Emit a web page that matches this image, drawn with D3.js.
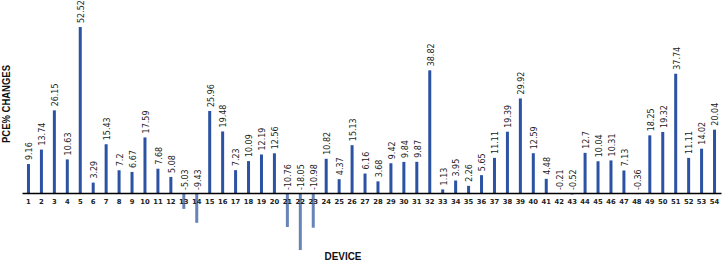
<!DOCTYPE html>
<html>
<head>
<meta charset="utf-8">
<script src="https://cdn.jsdelivr.net/npm/d3@7.9.0/dist/d3.min.js"></script>
<style>
  body { margin: 0; background: #fff; }
  svg { display: block; }
</style>
</head>
<body>
<div id="chart"></div>
<script>
// device ids and PCE% change per device
const devices = d3.range(1, 55);
const changes = [
  9.16, 13.74, 26.15, 10.63, 52.52, 3.29, 15.43, 7.2, 6.67, 17.59,
  7.68, 5.08, -5.03, -9.43, 25.96, 19.48, 7.23, 10.09, 12.19, 12.56,
  -10.76, -18.05, -10.98, 10.82, 4.37, 15.13, 6.16, 3.68, 9.42, 9.84,
  9.87, 38.82, 1.13, 3.95, 2.26, 5.65, 11.11, 19.39, 29.92, 12.59,
  4.48, -0.21, -0.52, 12.7, 10.04, 10.31, 7.13, -0.36, 18.25, 19.32,
  37.74, 11.11, 14.02, 20.04
];
const yDomain = [-20, 55];
const xTitle = 'DEVICE';
const yTitle = 'PCE% CHANGES';

const data = devices.map((d, i) => ({ device: d, value: changes[i] }));

const width = 723;
const height = 263;

const svg = d3.select('#chart')
  .append('svg')
  .attr('width', width)
  .attr('height', height);

const x = d3.scaleBand()
  .domain(devices)
  .range([22, 721]);

const y = d3.scaleLinear()
  .domain(yDomain)
  .range([256.2, 19.2]);

const barW = 3;

svg.append('g')
  .selectAll('rect')
  .data(data)
  .join('rect')
  .attr('x', d => x(d.device) + x.bandwidth() / 2 - barW / 2)
  .attr('y', d => y(Math.max(0, d.value)))
  .attr('width', barW)
  .attr('height', d => Math.abs(y(d.value) - y(0)))
  .attr('fill', d => d.value >= 0 ? '#2b52a3' : '#6784b9');

// value labels, rotated
svg.append('g')
  .selectAll('text')
  .data(data)
  .join('text')
  .attr('transform', d => {
    const cx = x(d.device) + x.bandwidth() / 2 + 1;
    const cy = d.value >= 0 ? y(d.value) - 4 : y(0) - 3;
    return `translate(${cx},${cy}) rotate(-90)`;
  })
  .attr('dy', '0.35em')
  .style('font-family', 'DejaVu Sans, Verdana, sans-serif')
  .style('font-size', '8px')
  .style('fill', '#222')
  .text(d => d.value);

// x axis
const xAxis = svg.append('g')
  .attr('transform', `translate(0,${y(0)})`)
  .call(d3.axisBottom(x).tickSize(0).tickSizeOuter(0).tickPadding(6));

xAxis.select('.domain')
  .attr('stroke', '#000')
  .attr('stroke-width', 1.3);

xAxis.selectAll('text')
  .style('font-family', 'DejaVu Sans, Verdana, sans-serif')
  .style('font-weight', 'bold')
  .style('font-size', '6.8px')
  .style('fill', '#222');

// axis titles
svg.append('text')
  .attr('x', 343)
  .attr('y', 260)
  .attr('text-anchor', 'middle')
  .attr('textLength', 37)
  .attr('lengthAdjust', 'spacingAndGlyphs')
  .style('font-family', 'Liberation Sans, Arial, sans-serif')
  .style('font-weight', 'bold')
  .style('font-size', '10.5px')
  .style('fill', '#111')
  .text(xTitle);

svg.append('text')
  .attr('transform', 'translate(10,104) rotate(-90)')
  .attr('text-anchor', 'middle')
  .attr('textLength', 78)
  .attr('lengthAdjust', 'spacingAndGlyphs')
  .style('font-family', 'Liberation Sans, Arial, sans-serif')
  .style('font-weight', 'bold')
  .style('font-size', '11px')
  .style('fill', '#111')
  .text(yTitle);
</script>
</body>
</html>
